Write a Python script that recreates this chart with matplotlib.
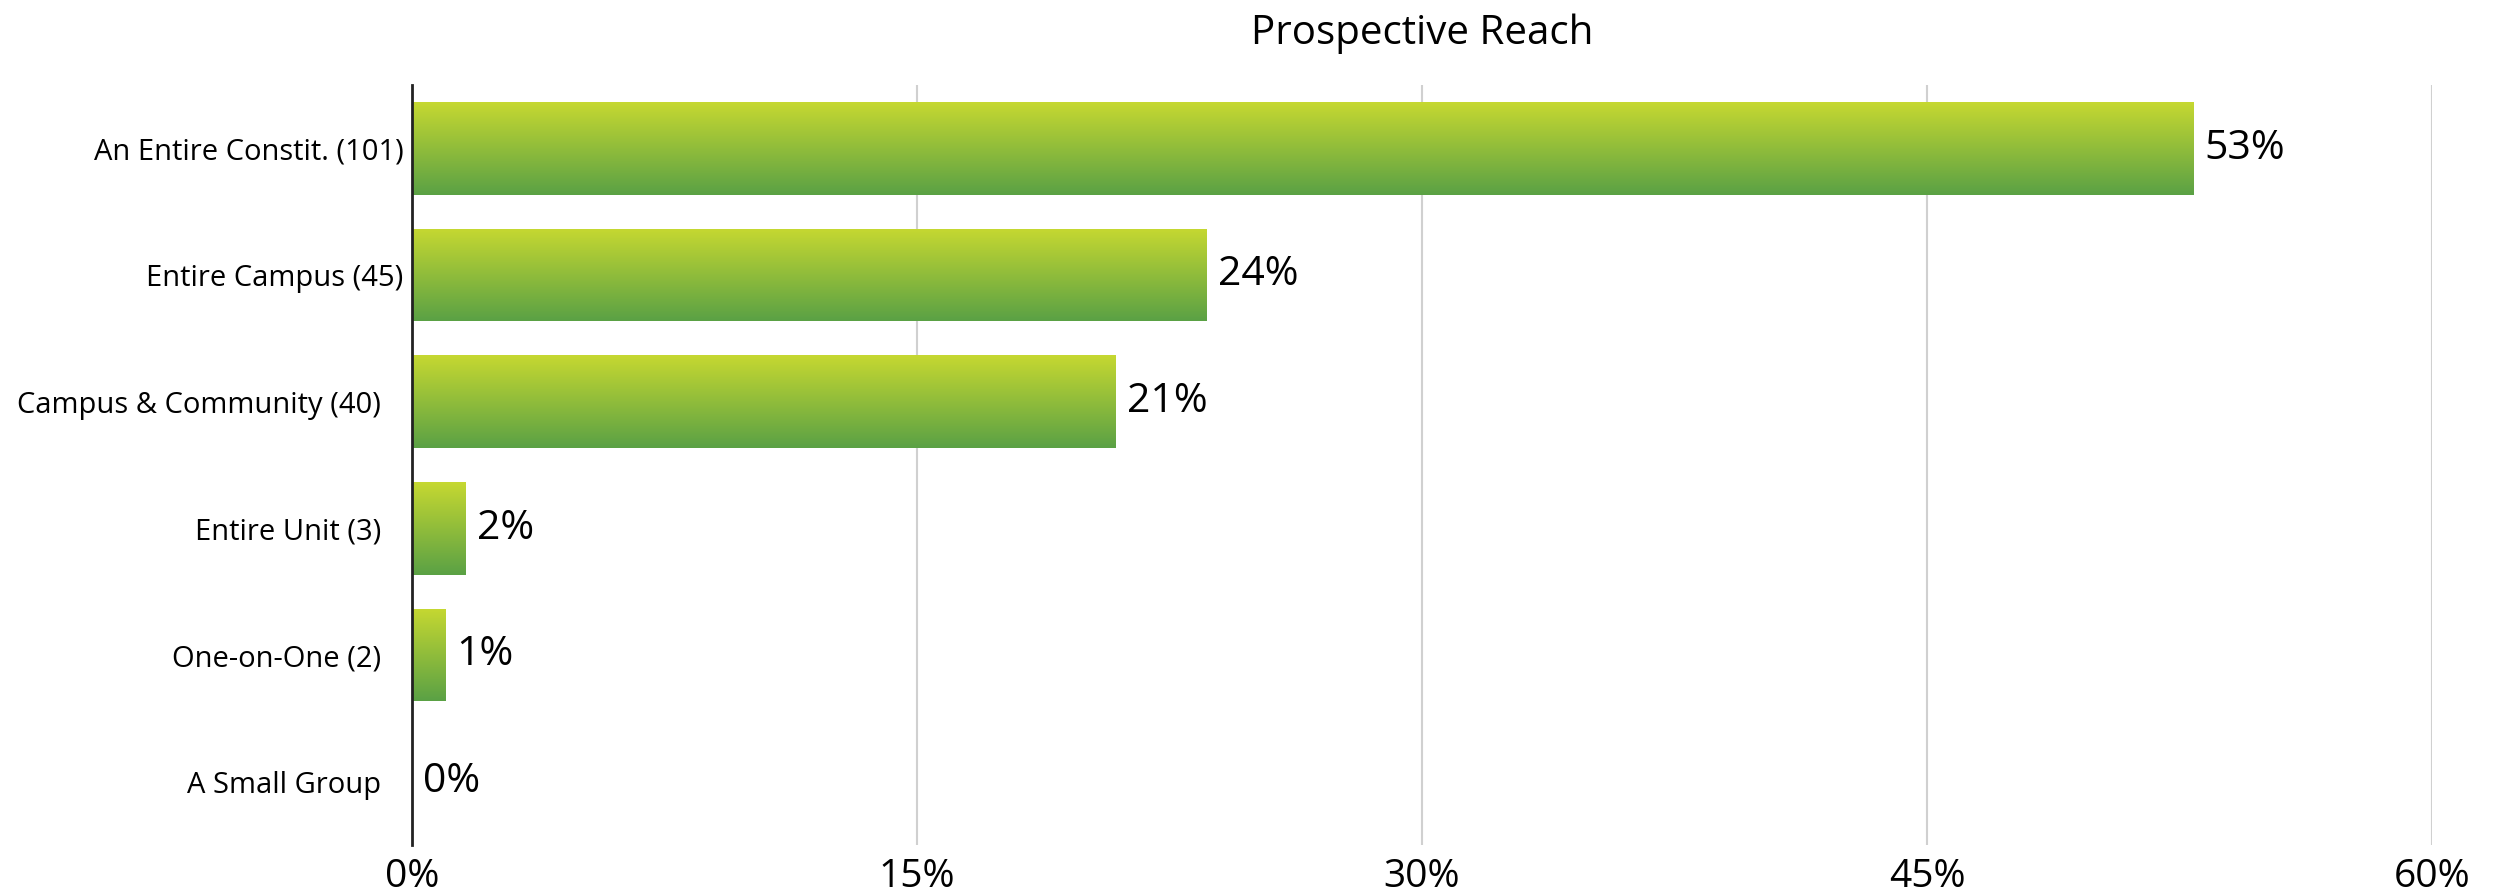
import matplotlib
matplotlib.use("Agg")
import matplotlib.pyplot as plt
import numpy as np
from matplotlib.colors import LinearSegmentedColormap

# data
categorias = ["An Entire Constit. (101)", "Entire Campus (45)", "Campus & Community (40)",
              "Entire Unit (3)", "One-on-One (2)", "A Small Group"]
porcentajes = [52.9, 23.6, 20.9, 1.6, 1.0, 0.0]
ticks_x = [0, 15, 30, 45, 60]
titulo = "Prospective Reach"

plt.rcParams['font.family'] = ['Open Sans', 'DejaVu Sans']

fig = plt.figure(figsize=(25.01, 8.93), dpi=100)
ax = fig.add_axes([0.1647, 0.0537, 0.8077, 0.8511])

y = np.arange(len(categorias))
barras = ax.barh(y, porcentajes, height=0.73, color='none', edgecolor='none')

# degradado vertical en cada barra
cmap = LinearSegmentedColormap.from_list('verde', ['#c6d831', '#5aa145'])
grad = np.linspace(0, 1, 256).reshape(-1, 1)
for b in barras:
    w = b.get_width()
    if w <= 0:
        continue
    x0, y0 = b.get_x(), b.get_y()
    h = b.get_height()
    im = ax.imshow(grad, cmap=cmap, aspect='auto', interpolation='bicubic',
                   extent=[x0, x0 + w, y0 + h, y0], zorder=2)
    im.set_clip_path(b)

for yi, v in zip(y, porcentajes):
    ax.annotate(f"{v:.0f}%", (v, yi), xytext=(8, 0), textcoords='offset points',
                va='center', ha='left', fontsize=29.5, color='black', fontweight='medium')

ax.set_xlim(0, 60)
ax.set_ylim(len(categorias) - 0.5, -0.5)
ax.set_xticks(ticks_x)
ax.set_xticklabels([f"{t}%" for t in ticks_x], fontsize=28, fontweight='medium')
ax.set_yticks(y)
ax.set_yticklabels(categorias, fontsize=21, fontweight='medium')
ax.tick_params(axis='both', length=0)
ax.tick_params(axis='x', pad=9)
for i, t in enumerate(ax.yaxis.get_major_ticks()):
    t.set_pad(6 if i < 2 else 22)

ax.grid(axis='x', color='#d0d0d0', linewidth=1.5, zorder=0)
ax.set_axisbelow(True)
for s in ['top', 'right', 'bottom']:
    ax.spines[s].set_visible(False)
ax.spines['left'].set_linewidth(2)
ax.spines['left'].set_color('#222222')
ax.spines['left'].set_zorder(3)

fig.text(0.5685, 0.962, titulo, ha='center', va='center', fontsize=29, fontweight='medium')

fig.savefig("out.png", dpi=100)
